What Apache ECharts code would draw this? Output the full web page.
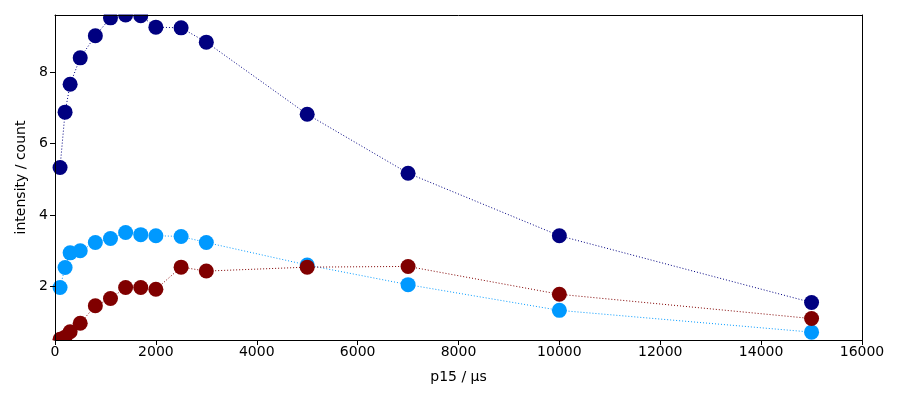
<!DOCTYPE html>
<html>
<head>
<meta charset="utf-8">
<script src="https://cdn.jsdelivr.net/npm/echarts@6/dist/echarts.min.js"></script>
<style>
  html, body { margin: 0; padding: 0; background: #fff; }
  #chart { width: 900px; height: 400px; }
</style>
</head>
<body>
<div id="chart"></div>
<script>
// p15 delays in microseconds
const p15 = [100, 200, 300, 500, 800, 1100, 1400, 1700, 2000, 2500, 3000, 5000, 7000, 10000, 15000];

const navySeries = [5.33, 6.88, 7.66, 8.40, 9.02, 9.52, 9.60, 9.58, 9.26, 9.24, 8.84, 6.82, 5.17, 3.42, 1.55];
const blueSeries = [1.97, 2.53, 2.94, 3.00, 3.23, 3.34, 3.51, 3.45, 3.42, 3.40, 3.23, 2.60, 2.05, 1.33, 0.72];
const redSeries  = [0.52, 0.58, 0.73, 0.97, 1.46, 1.66, 1.97, 1.97, 1.92, 2.54, 2.43, 2.54, 2.56, 1.78, 1.10];

const yTicks = [2, 4, 6, 8];
const xTicks = [0, 2000, 4000, 6000, 8000, 10000, 12000, 14000, 16000];

const font = 'DejaVu Sans';
const fontSize = 14;

const toPairs = (ys) => p15.map((x, i) => [x, ys[i]]);

const makeSeries = (name, color, ys) => ({
    name: name,
    type: 'line',
    data: toPairs(ys),
    symbol: 'circle',
    symbolSize: 15,
    clip: true,
    itemStyle: { color: color },
    lineStyle: { color: color, width: 1, type: [1, 2] },
    emphasis: { disabled: true },
    animation: false,
    z: 2
});

const chart = echarts.init(document.getElementById('chart'));

chart.setOption({
    animation: false,
    grid: { left: 55, right: 38, top: 15, bottom: 60 },
    xAxis: [{
        type: 'value',
        min: 0,
        max: 16000,
        interval: 2000,
        z: 10,
        name: 'p15 / μs',
        nameLocation: 'middle',
        nameGap: 30,
        nameTextStyle: { fontFamily: font, fontSize: fontSize, color: '#000' },
        axisLine: { show: true, lineStyle: { color: '#000', width: 1 } },
        axisTick: { show: true, length: 5, lineStyle: { color: '#000' } },
        axisLabel: { fontFamily: font, fontSize: fontSize, color: '#000', margin: 5,
            customValues: xTicks, formatter: (v) => String(v) },
        splitLine: { show: false }
    }, {
        type: 'value',
        position: 'top',
        min: 0,
        max: 16000,
        z: 10,
        axisLine: { show: true, onZero: false, lineStyle: { color: '#000', width: 1 } },
        axisTick: { show: false },
        axisLabel: { show: false },
        splitLine: { show: false }
    }],
    yAxis: [{
        type: 'value',
        min: 0.5,
        max: 9.6,
        z: 10,
        name: 'intensity / count',
        nameLocation: 'middle',
        nameGap: 26,
        nameTextStyle: { fontFamily: font, fontSize: fontSize, color: '#000' },
        axisLine: { show: true, lineStyle: { color: '#000', width: 1 } },
        axisTick: { show: true, length: 5, lineStyle: { color: '#000' }, customValues: yTicks },
        axisLabel: { fontFamily: font, fontSize: fontSize, color: '#000', margin: 7, customValues: yTicks },
        splitLine: { show: false }
    }, {
        type: 'value',
        position: 'right',
        min: 0.5,
        max: 9.6,
        z: 10,
        axisLine: { show: true, onZero: false, lineStyle: { color: '#000', width: 1 } },
        axisTick: { show: false },
        axisLabel: { show: false },
        splitLine: { show: false }
    }],
    graphic: [
        // white masks so markers are clipped at the frame like the original
        { type: 'rect', z: 5, shape: { x: 0, y: 0, width: 900, height: 14.5 }, style: { fill: '#fff' } },
        { type: 'rect', z: 5, shape: { x: 0, y: 340.5, width: 900, height: 20 }, style: { fill: '#fff' } }
    ],
    series: [
        makeSeries('navy', '#000080', navySeries),
        makeSeries('blue', '#0099ff', blueSeries),
        makeSeries('red', '#800000', redSeries)
    ]
});
</script>
</body>
</html>
